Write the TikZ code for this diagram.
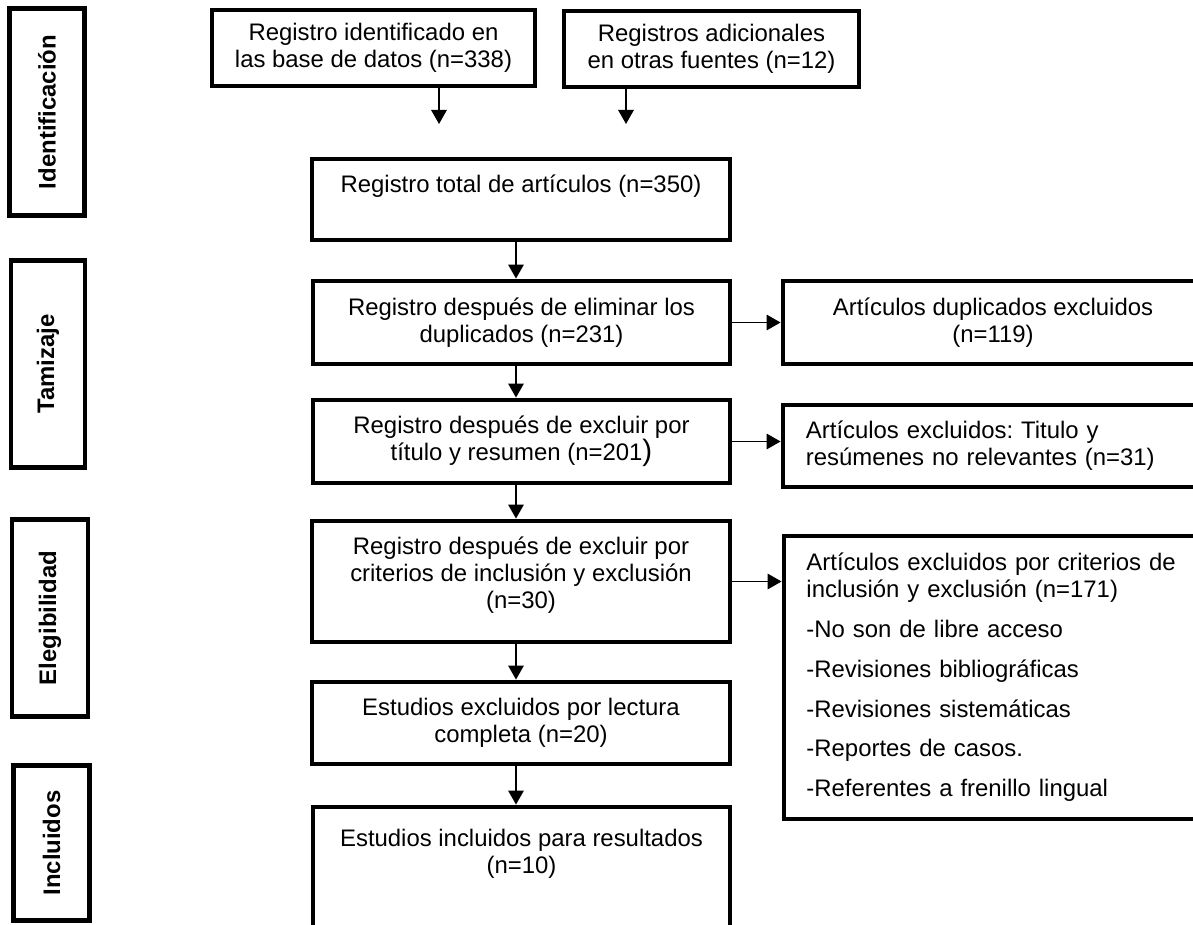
\documentclass[tikz,border=0pt]{standalone}
\usepackage{fontspec}
\setmainfont{Liberation Sans}
\usetikzlibrary{arrows.meta,positioning}
\frenchspacing

\tikzset{
  box/.style={draw, line width=3.4pt, align=center, inner sep=0pt},
  stage/.style={box, rotate=90, font=\fontsize{17}{19.1}\selectfont\bfseries},
  txt/.style={align=center, inner sep=0pt},
  sz/.style 2 args={minimum width=#1*0.025cm, minimum height=#2*0.025cm},
  flecha/.style={-{Triangle[length=10pt,width=11pt]}, line width=1.3pt},
}

\begin{document}
\begin{tikzpicture}[x=0.025cm, y=-0.025cm, font=\fontsize{17}{19.1}\selectfont]
    \useasboundingbox (0,0) rectangle (1193,925);

    % etapas
    \node[stage, sz={207}{75}] (ident) at (47,112) {Identificación};
    \node[stage, sz={207}{74}] (tamiz) at (48,364) {Tamizaje};
    \node[stage, sz={197}{76}] (elegi) at (50,618) {Elegibilidad};
    \node[stage, sz={155}{76}] (inclu) at (51.5,843) {Incluidos};

    % columna central
    \node[box, sz={323}{76}] (datos) at (373.5,48) {Registro identificado en\\las base de datos (n=338)};
    \node[box, sz={295}{76}] (fuentes) at (711.5,49) {Registros adicionales\\en otras fuentes (n=12)};
    \node[box, sz={418}{81}] (total) at (521,199.5) {};
    \node[txt, below=0.45cm of total.north] (totaltxt) {Registro total de artículos (n=350)};
    \node[box, sz={417}{83}] (duplic) at (521.5,322.5) {Registro después de eliminar los\\duplicados (n=231)};
    \node[box, sz={417}{83}] (titulo) at (521.5,441.5) {Registro después de excluir por\\título y resumen (n=201{\fontsize{21}{21}\selectfont)}};
    \node[box, sz={418}{121}] (criterios) at (521,581.5) {};
    \node[txt, below=0.45cm of criterios.north] (criteriostxt) {Registro después de excluir por\\criterios de inclusión y exclusión\\(n=30)};
    \node[box, sz={418}{82}] (lectura) at (521,723) {Estudios excluidos por lectura\\completa (n=20)};
    \node[box, sz={417}{136}] (incl) at (521.5,875) {};
    \node[txt, below=0.6cm of incl.north] (incltxt) {Estudios incluidos para resultados\\(n=10)};

    % excluidos
    \node[box, sz={420}{83}] (dupexcl) at (993,322.5) {Artículos duplicados excluidos\\(n=119)};
    \node[box, sz={420}{82}, align=left, text width=9.35cm] (titexcl) at (993,446) {Artículos excluidos: Titulo y\\resúmenes no relevantes (n=31)};
    \node[box, sz={419}{283}, align=left, text width=9.35cm] (critexcl) at (993.5,677.5) {Artículos excluidos por criterios de\\inclusión y exclusión (n=171)\\[9.2pt]-No son de libre acceso\\[9.2pt]-Revisiones bibliográficas\\[9.2pt]-Revisiones sistemáticas\\[9.2pt]-Reportes de casos.\\[9.2pt]-Referentes a frenillo lingual};

    % flechas
    \coordinate (datosfin) at (439,124);
    \coordinate (fuentesfin) at (626,124);
    \coordinate (eje) at (516,0);
    \draw[flecha] (datos.south -| datosfin) -- (datosfin);
    \draw[flecha] (fuentes.south -| fuentesfin) -- (fuentesfin);
    \draw[flecha] (total.south -| eje) -- (duplic.north -| eje);
    \draw[flecha] (duplic.south -| eje) -- (titulo.north -| eje);
    \draw[flecha] (titulo.south -| eje) -- (criterios.north -| eje);
    \draw[flecha] (criterios.south -| eje) -- (lectura.north -| eje);
    \draw[flecha] (lectura.south -| eje) -- (incl.north -| eje);
    \draw[flecha] (duplic.east) -- (dupexcl.west);
    \draw[flecha] (titulo.east) -- (titulo.east -| titexcl.west);
    \draw[flecha] (criterios.east) -- (criterios.east -| critexcl.west);
\end{tikzpicture}
\end{document}
